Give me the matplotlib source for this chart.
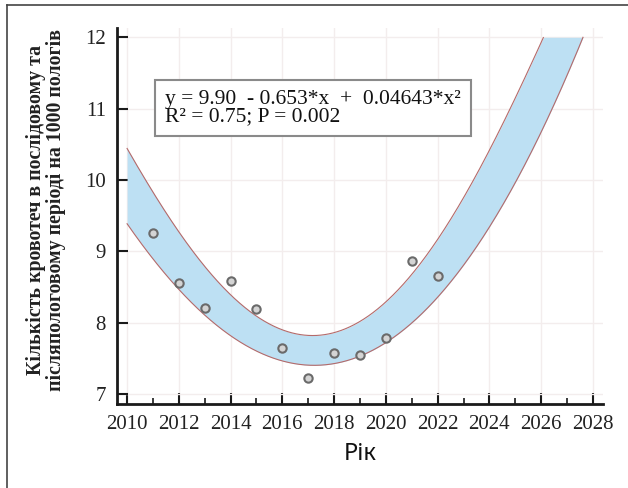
import matplotlib.pyplot as plt
import numpy as np

# points (year, bleedings per 1000 births)
years = [2011, 2012, 2013, 2014, 2015, 2016, 2017, 2018, 2019, 2020, 2021, 2022]
values = [9.25, 8.56, 8.20, 8.58, 8.19, 7.64, 7.22, 7.57, 7.55, 7.78, 8.87, 8.66]

# band edges
band_years = [2010, 2011, 2012, 2013, 2014, 2015, 2016, 2017, 2018, 2019,
              2020, 2021, 2022, 2023, 2024, 2025, 2026, 2027, 2028]
band_upper = [10.37, 9.86, 9.40, 8.81, 8.35, 8.00, 7.88, 7.84, 7.86, 7.98,
              8.25, 8.76, 9.25, 9.78, 10.40, 11.10, 11.88, 12.70, 13.60]
band_lower = [9.33, 8.92, 8.53, 8.13, 7.83, 7.58, 7.43, 7.38, 7.40, 7.48,
              7.68, 8.00, 8.48, 8.93, 9.38, 9.88, 10.55, 11.40, 12.45]

x_ticks = [2010, 2012, 2014, 2016, 2018, 2020, 2022, 2024, 2026, 2028]
y_ticks = [7, 8, 9, 10, 11, 12]

eq_text = 'y = 9.90  - 0.653*x  +  0.04643*x²\nR² = 0.75; P = 0.002'
ylabel = 'Кількість кровотеч в послідовому та\nпісляпологовому періоді на 1000 пологів'
xlabel = 'Рік'

fig = plt.figure(figsize=(6.28, 4.88), dpi=100)
ax = fig.add_axes([117/628, 84/488, 486/628, 376/488])
ax.set_axisbelow(True)

# smooth the read edges
xs = np.linspace(2010, 2028, 800)
up = np.polyval(np.polyfit(band_years, band_upper, 5), xs)
lo = np.polyval(np.polyfit(band_years, band_lower, 5), xs)
m = lo <= 12
ax.fill_between(xs[m], lo[m], np.minimum(up[m], 12), color='#bde0f3', lw=0, zorder=1)
mu = up <= 12
ax.plot(xs[mu], up[mu], color='#b46a6a', lw=0.8, zorder=2)
ax.plot(xs[m], lo[m], color='#b46a6a', lw=0.8, zorder=2)

ax.plot(years, values, 'o', ms=6, mfc='#d4d4d4', mec='#6a6a6a', mew=1.5, zorder=3)

ax.set_xlim(2009.61, 2028.39)
ax.set_ylim(6.86, 12.13)
ax.set_xticks(x_ticks)
ax.set_xticks(range(2010, 2029), minor=True)
ax.set_yticks(y_ticks)
ax.grid(True, which='major', color='#f3eded', lw=1)

for s in ['top', 'right']:
    ax.spines[s].set_visible(False)
for s in ['left', 'bottom']:
    ax.spines[s].set_linewidth(2)
    ax.spines[s].set_color('#1a1a1a')
    ax.spines[s].set_zorder(5)

ax.tick_params(which='major', direction='in', length=8, width=1.5, color='#1a1a1a', pad=8)
ax.tick_params(which='minor', direction='in', length=4, width=1.2, color='#1a1a1a')
for lab in ax.get_xticklabels() + ax.get_yticklabels():
    lab.set_fontfamily('Liberation Serif')
    lab.set_fontsize(15)
    lab.set_color('#222222')

ax.text(0.099, 0.835, eq_text, transform=ax.transAxes, fontsize=15.5,
        family='Liberation Serif', color='#111111', va='top', ha='left', linespacing=0.9,
        bbox=dict(boxstyle='square,pad=0.45', fc='white', ec='#8a8a8a', lw=1.5), zorder=4)

fig.text(46/628, 1 - 210/488, ylabel, rotation=90, ha='center', va='center',
         family='Liberation Serif', fontweight='bold', fontsize=14.3, color='#222222',
         multialignment='center', linespacing=1.05)
ax.set_xlabel(xlabel, family='Noto Sans', fontsize=17, color='#111111', labelpad=6)

# outer frame
fig.add_artist(plt.Line2D([7/628, 7/628], [0, 1 - 5/488], color='#444444', lw=1.2))
fig.add_artist(plt.Line2D([7/628, 1], [1 - 5/488, 1 - 5/488], color='#444444', lw=1.2))

fig.savefig('out.png', dpi=100)
